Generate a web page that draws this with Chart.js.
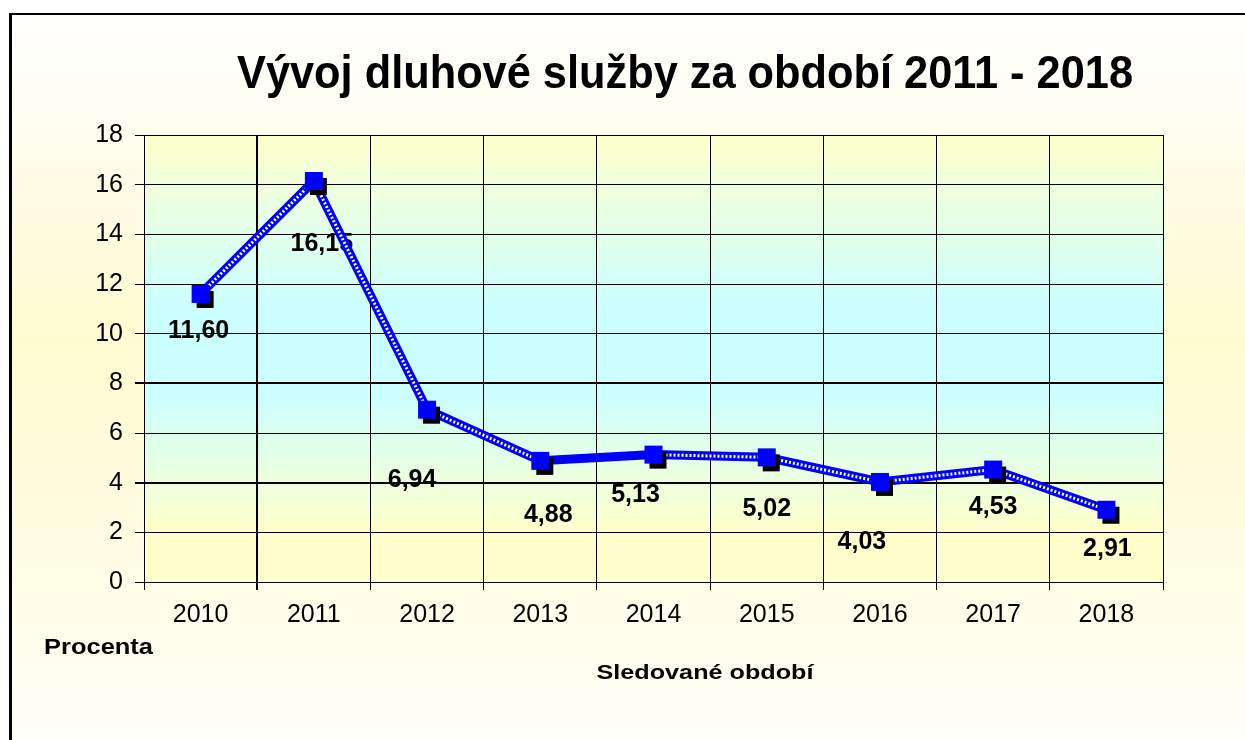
<!DOCTYPE html>
<html>
<head>
<meta charset="utf-8">
<title>Vývoj dluhové služby</title>
<script src="https://cdn.jsdelivr.net/npm/chart.js@4.4.0/dist/chart.umd.min.js"></script>
<style>
  html, body { margin: 0; padding: 0; background: #fff; }
  canvas { display: block; }
</style>
</head>
<body>
<canvas id="chart" width="1245" height="740"></canvas>
<script>
var years = ["2010", "2011", "2012", "2013", "2014", "2015", "2016", "2017", "2018"];
var debtService = [11.60, 16.15, 6.94, 4.88, 5.13, 5.02, 4.03, 4.53, 2.91];
var yTicks = [0, 2, 4, 6, 8, 10, 12, 14, 16, 18];

var titleText = "Vývoj dluhové služby za období 2011 - 2018";
var yAxisTitle = "Procenta";
var xAxisTitle = "Sledované období";

// where the value labels sit relative to their marker (px), like the hand-placed Excel labels
var labelShiftX = [-2, 8, -15, 8, -18, 0, -18, 0, 1];
var labelShiftY = [36, 62, 69, 53, 40, 51, 59, 37, 38];

var FONT = '"Liberation Sans", Arial, sans-serif';

// blue square marker with a black drop shadow
function makeMarker() {
    var c = document.createElement('canvas');
    c.width = 30;
    c.height = 30;
    var g = c.getContext('2d');
    g.fillStyle = '#000';
    g.fillRect(11, 12, 17, 17);
    g.fillStyle = '#0000ff';
    g.fillRect(6, 6, 18, 18);
    return c;
}

// draw text squeezed/stretched to a given width
function fitText(ctx, text, x, y, font, width, align) {
    ctx.save();
    ctx.font = font;
    var w = ctx.measureText(text).width;
    var left = align === 'center' ? x - width / 2 : x;
    ctx.translate(left, y);
    ctx.scale(width / w, 1);
    ctx.textAlign = 'left';
    ctx.textBaseline = 'alphabetic';
    ctx.fillStyle = '#000';
    ctx.fillText(text, 0, 0);
    ctx.restore();
}

var backdrop = {
    id: 'backdrop',
    beforeDraw: function (chart) {
        var ctx = chart.ctx;
        var a = chart.chartArea;
        ctx.save();
        ctx.fillStyle = '#fff';
        ctx.fillRect(0, 0, chart.width, chart.height);

        // chart area fill
        var g = ctx.createLinearGradient(0, 14, 0, chart.height);
        g.addColorStop(0, '#ffffff');
        g.addColorStop(0.45, '#fffbd0');
        g.addColorStop(1, '#fffff6');
        ctx.fillStyle = g;
        ctx.fillRect(10, 14, chart.width - 10, chart.height - 14);

        // frame (only left and top are inside the picture)
        ctx.fillStyle = '#000';
        ctx.fillRect(9, 13, 3, chart.height - 13);
        ctx.fillRect(9, 13, chart.width - 9, 2);

        // plot area: yellow - cyan - yellow
        var p = ctx.createLinearGradient(0, a.top, 0, a.bottom);
        p.addColorStop(0, '#ffffcc');
        p.addColorStop(0.38, '#ccffff');
        p.addColorStop(0.58, '#ccffff');
        p.addColorStop(0.88, '#ffffcc');
        p.addColorStop(1, '#ffffcc');
        ctx.fillStyle = p;
        ctx.fillRect(a.left, a.top, a.right - a.left, a.bottom - a.top);
        ctx.restore();
    },
    beforeDatasetsDraw: function (chart) {
        // value labels go under the line
        var ctx = chart.ctx;
        var meta = chart.getDatasetMeta(0);
        ctx.save();
        ctx.font = 'bold 25px ' + FONT;
        ctx.fillStyle = '#000';
        ctx.textAlign = 'center';
        ctx.textBaseline = 'middle';
        meta.data.forEach(function (pt, i) {
            var txt = debtService[i].toFixed(2).replace('.', ',');
            ctx.fillText(txt, pt.x + labelShiftX[i], pt.y + labelShiftY[i] + 1);
        });
        ctx.restore();
    },
    afterDraw: function (chart) {
        var ctx = chart.ctx;
        fitText(ctx, titleText, 685, 88, 'bold 46px ' + FONT, 896, 'center');
        fitText(ctx, yAxisTitle, 44, 654, 'bold 22px ' + FONT, 109, 'left');
        fitText(ctx, xAxisTitle, 705, 679, 'bold 21px ' + FONT, 217, 'center');
    }
};

var marker = makeMarker();

var chart = new Chart(document.getElementById('chart'), {
    type: 'line',
    data: {
        labels: years,
        datasets: [
            {
                // markers on top
                data: debtService,
                showLine: false,
                pointStyle: marker,
                pointRadius: 15,
                pointHoverRadius: 15,
                order: 0
            },
            {
                // white dotted core of the line (the 2013-2014 piece is plain blue)
                data: debtService,
                borderColor: '#ffffff',
                borderWidth: 3,
                borderDash: [2, 2],
                pointRadius: 0,
                tension: 0,
                segment: {
                    borderColor: function (c) {
                        return c.p0DataIndex === 3 ? 'rgba(0,0,0,0)' : '#ffffff';
                    }
                },
                order: 1
            },
            {
                data: debtService,
                borderColor: '#0000ff',
                borderWidth: 9,
                pointRadius: 0,
                tension: 0,
                order: 2
            }
        ]
    },
    options: {
        responsive: false,
        animation: false,
        devicePixelRatio: 1,
        layout: {
            padding: { top: 135, left: 0, right: 82, bottom: 0 }
        },
        plugins: {
            legend: { display: false },
            tooltip: { enabled: false },
            title: { display: false }
        },
        scales: {
            x: {
                offset: true,
                afterFit: function (scale) { scale.height = 158; },
                border: { color: '#000', width: 1 },
                grid: {
                    offset: true,
                    color: '#000',
                    lineWidth: function (c) { return c.index === 1 ? 2 : 1; },
                    tickLength: 8
                },
                ticks: {
                    color: '#000',
                    padding: 10,
                    maxRotation: 0,
                    font: { family: FONT, size: 25 }
                }
            },
            y: {
                min: yTicks[0],
                max: yTicks[yTicks.length - 1],
                afterFit: function (scale) { scale.width = 144; },
                afterBuildTicks: function (scale) {
                    scale.ticks = yTicks.map(function (v) { return { value: v }; });
                },
                border: { color: '#000', width: 1 },
                grid: {
                    color: '#000',
                    lineWidth: function (c) {
                        return (c.tick && (c.tick.value === 8 || c.tick.value === 4)) ? 2 : 1;
                    },
                    tickLength: 9
                },
                ticks: {
                    color: '#000',
                    padding: 12,
                    font: { family: FONT, size: 25 }
                }
            }
        }
    },
    plugins: [backdrop]
});
</script>
</body>
</html>
